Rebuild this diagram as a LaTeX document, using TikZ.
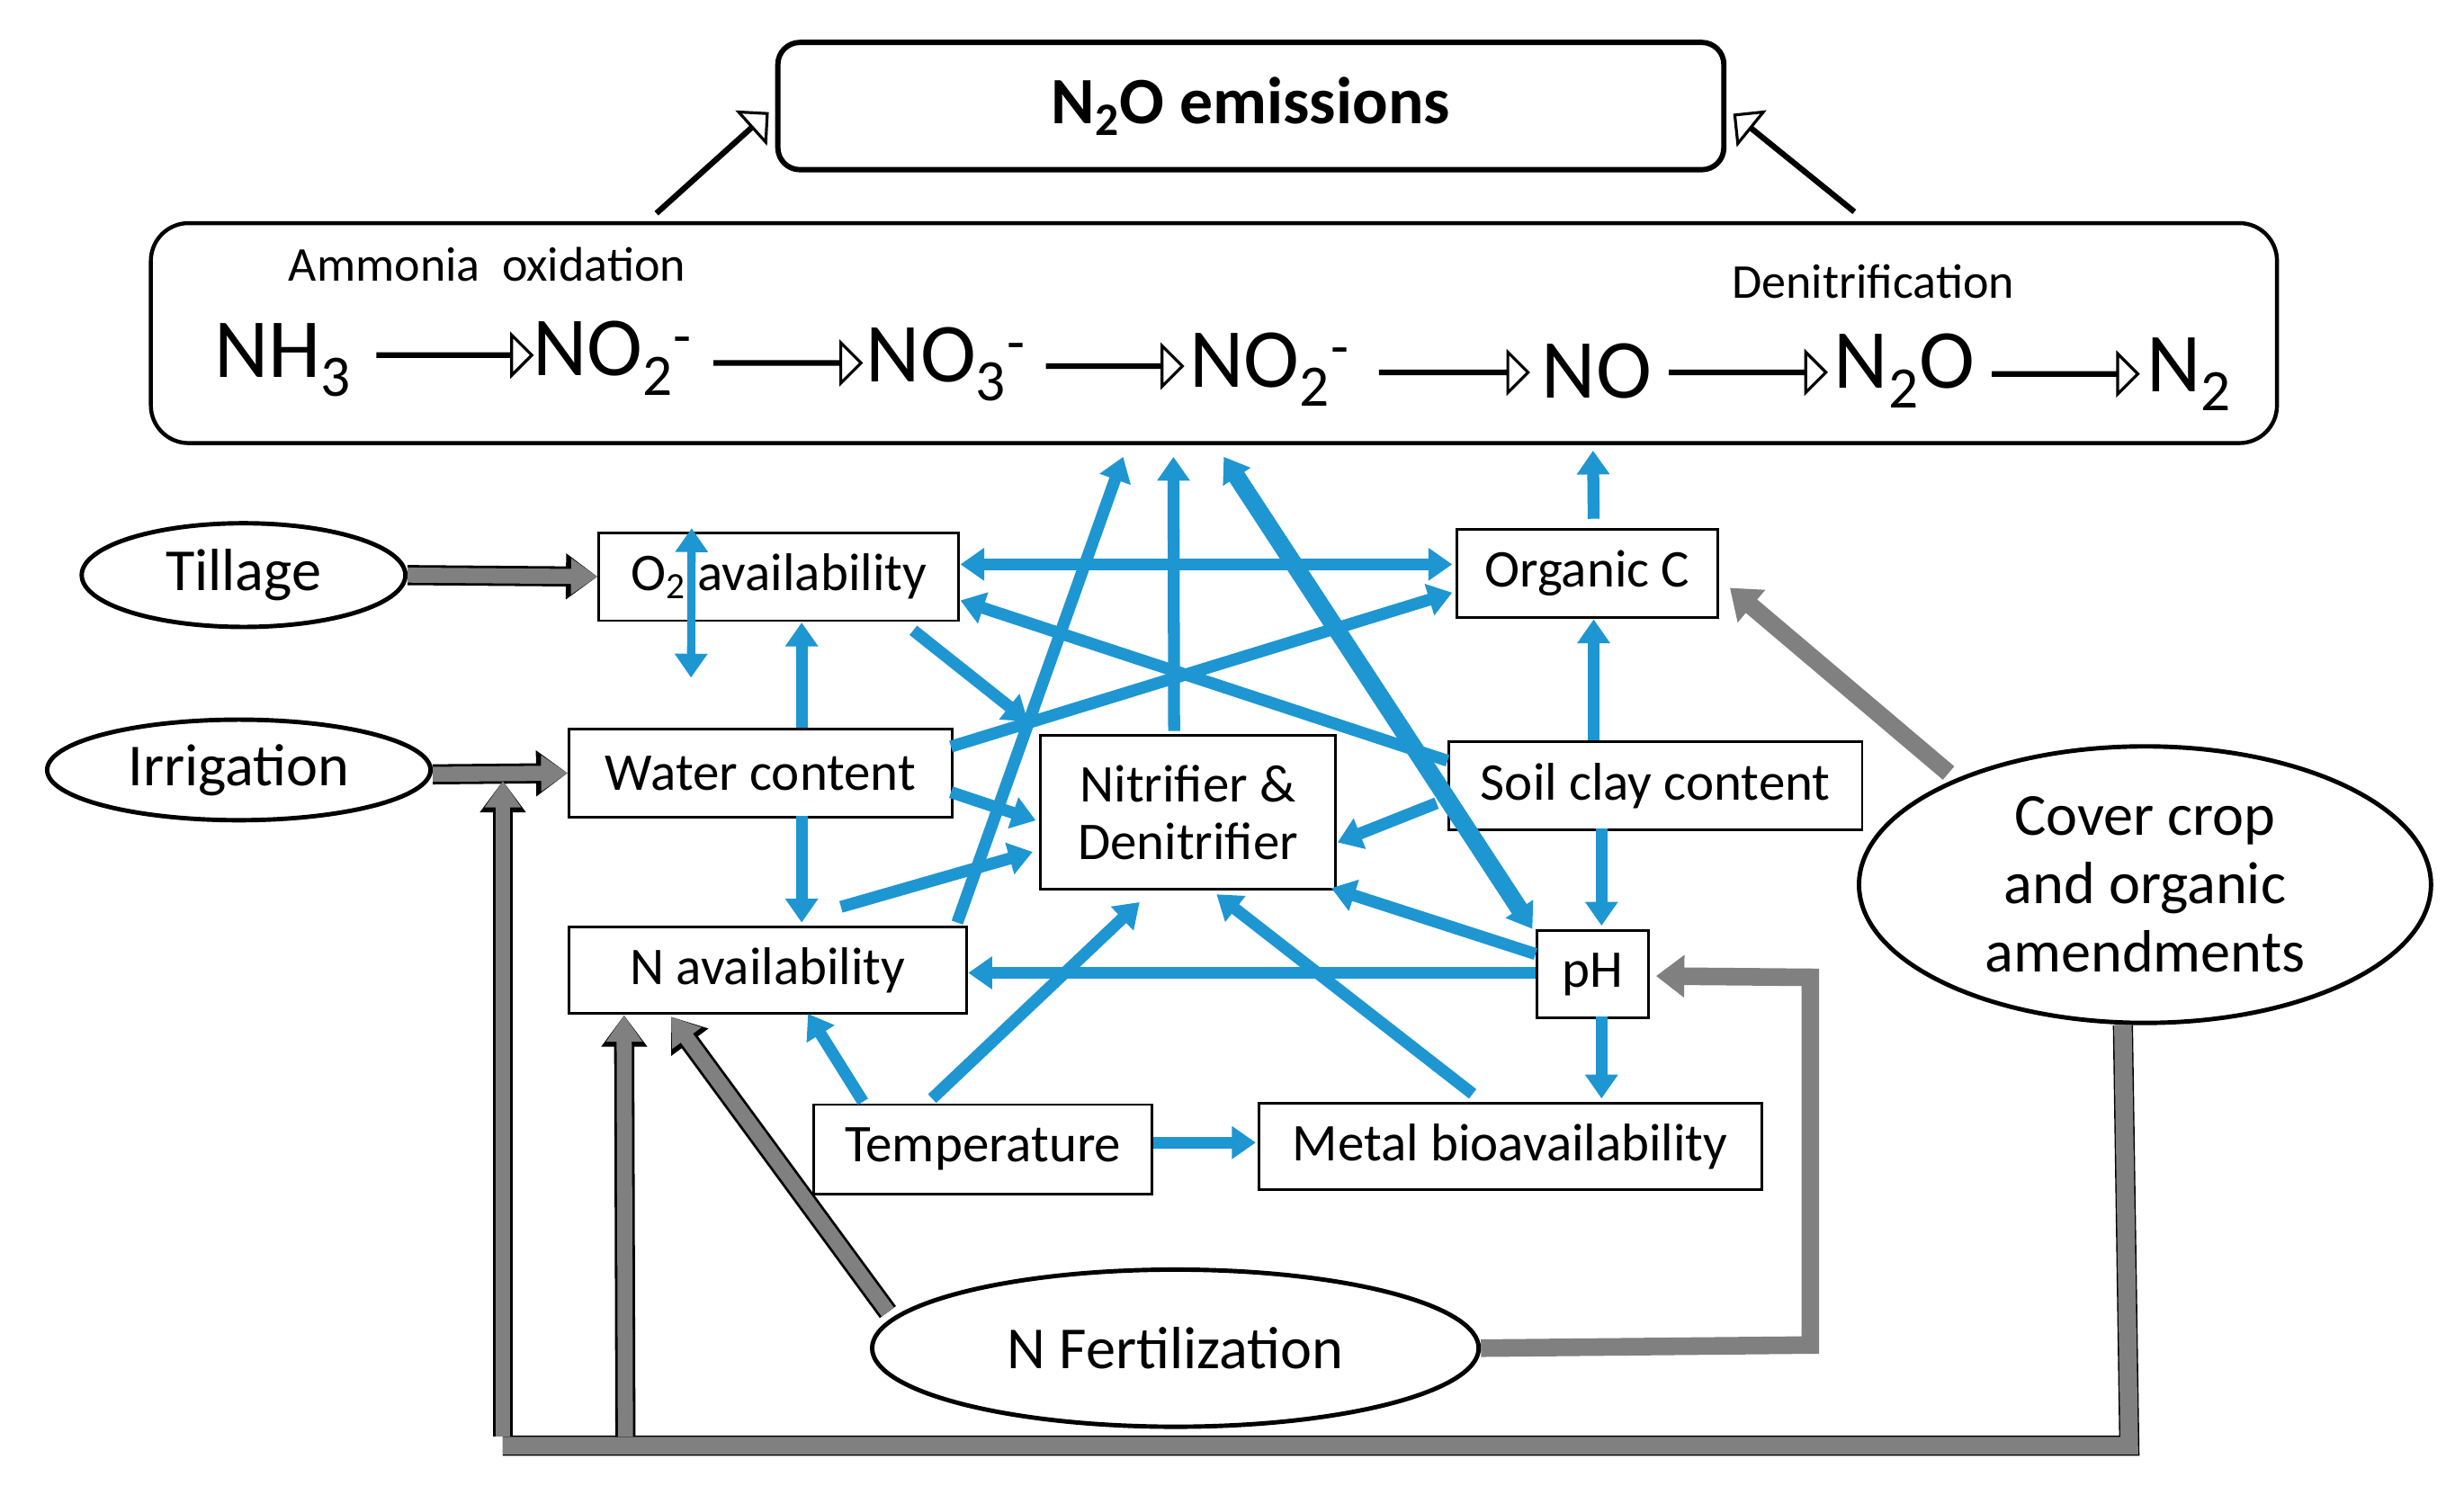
\documentclass[tikz,border=0pt]{standalone}
\usepackage{fontspec}
\setmainfont{Carlito}
\usetikzlibrary{shapes.geometric,shapes.arrows,arrows.meta}
\definecolor{cblue}{RGB}{30,150,210}
\definecolor{cgray}{RGB}{128,128,128}
\newcommand\fs[1]{\fontsize{#1}{#1}\selectfont}
\begin{document}
\begin{tikzpicture}[x=0.025cm,y=-0.025cm,
  box/.style={draw,line width=1.2pt,inner sep=0,font=\fs{24}},
  ell/.style={draw,ellipse,line width=2pt,inner sep=0,font=\fs{27},align=center},
  ba/.style={draw=cblue,line width=0.19cm,-{Triangle[width=0.5cm,length=0.38cm]}},
  bd/.style={ba,{Triangle[width=0.5cm,length=0.38cm]}-{Triangle[width=0.5cm,length=0.38cm]}},
  ga/.style={draw=cgray,line width=0.24cm,-{Triangle[width=0.55cm,length=0.42cm]},
     preaction={draw=black,line width=0.32cm,-{Triangle[width=0.7cm,length=0.5cm]}}},
  gp/.style={draw=cgray,line width=0.28cm,-{Triangle[width=0.65cm,length=0.45cm]}},
  hollow/.style={draw,fill=white,single arrow,line width=1.3pt,inner sep=0,
     minimum width=0.4cm,single arrow head extend=0.3cm,single arrow head indent=0pt},
  chem/.style={font=\fs{38},inner sep=0}]
\useasboundingbox (0,0) rectangle (1568,957);
% top boxes
\node[draw,rounded corners=0.35cm,line width=2.4pt,minimum width=602*0.025cm,minimum height=81*0.025cm,font=\fs{30}\bfseries] (top) at (796,67.5) {N\textsubscript{2}O emissions};
\node[draw,rounded corners=0.6cm,line width=1.8pt,minimum width=1353*0.025cm,minimum height=140*0.025cm] (big) at (772.5,212) {};
\node[font=\fs{22},inner sep=0] (amm) at (310,168) {Ammonia\ \ oxidation};
\node[font=\fs{22},inner sep=0] (den) at (1192,179) {Denitrification};
\node[chem] (c1) at (180,229) {NH\textsubscript{3}};
\node[chem] (c2) at (390,228) {NO\textsubscript{2}\textsuperscript{-}};
\node[chem] (c3) at (602,232) {NO\textsubscript{3}\textsuperscript{-}};
\node[chem] (c4) at (808,235) {NO\textsubscript{2}\textsuperscript{-}};
\node[chem] (c5) at (1016,236) {NO};
\node[chem] (c6) at (1212,236) {N\textsubscript{2}O};
\node[chem] (c7) at (1393,238) {N\textsubscript{2}};
\node[hollow,minimum height=98*0.025cm] (h1) at (289,226) {};
\node[hollow,minimum height=93*0.025cm] (h2) at (501,231) {};
\node[hollow,minimum height=86*0.025cm] (h3) at (709,233) {};
\node[hollow,minimum height=94*0.025cm] (h4) at (925,237) {};
\node[hollow,minimum height=99*0.025cm] (h5) at (1112,237) {};
\node[hollow,minimum height=92*0.025cm] (h6) at (1314,238) {};
\node[hollow,minimum height=94*0.025cm,rotate=42] (d1) at (453,104) {};
\node[hollow,minimum height=97*0.025cm,rotate=141] (d2) at (1142,104) {};
% boxes
\node[box,minimum width=229*0.025cm,minimum height=56*0.025cm] (O2) at (495.5,367) {O\textsubscript{2} availability};
\node[box,minimum width=166*0.025cm,minimum height=56*0.025cm] (OC) at (1010,365) {Organic C};
\node[box,minimum width=244*0.025cm,minimum height=56*0.025cm] (W) at (484,492) {Water content};
\node[box,minimum width=188*0.025cm,minimum height=98*0.025cm,align=center] (ND) at (756,517) {Nitrifier \&\\[2pt]Denitrifier};
\node[box,minimum width=263*0.025cm,minimum height=56*0.025cm] (SC) at (1053.5,500) {Soil clay content};
\node[box,minimum width=253*0.025cm,minimum height=55*0.025cm] (NA) at (488.5,617.5) {N availability};
\node[box,minimum width=71*0.025cm,minimum height=56*0.025cm] (pH) at (1013.5,620) {pH};
\node[box,minimum width=215*0.025cm,minimum height=57*0.025cm] (T) at (625.5,731.5) {Temperature};
\node[box,minimum width=320*0.025cm,minimum height=55*0.025cm] (M) at (961,729.5) {Metal bioavailability};
% ellipses
\node[ell,minimum width=206*0.025cm,minimum height=66*0.025cm] (Til) at (155,366) {Tillage};
\node[ell,minimum width=244*0.025cm,minimum height=64*0.025cm] (Irr) at (152,490) {Irrigation};
\node[ell,minimum width=364*0.025cm,minimum height=176*0.025cm] (CC) at (1365,563) {Cover crop\\[4pt]and organic\\[4pt]amendments};
\node[ell,minimum width=386*0.025cm,minimum height=100*0.025cm] (NF) at (748,858) {N Fertilization};
% blue arrows
\draw[bd,line width=0.13cm] ([shift={(345,148)}]big.south west) -- ([shift={(60,-2)}]O2.north west);
\draw[bd] ([shift={(231,21)}]O2.north west) -- ([shift={(-2,23)}]OC.north west);
\draw[ba] ([shift={(149,0)}]W.north west) -- ([shift={(130,58)}]O2.north west);
\draw[ba] ([shift={(149,56)}]W.north west) -- ([shift={(149,-2)}]NA.north west);
\draw[ba] ([shift={(0,13)}]SC.north west) -- ([shift={(231,44)}]O2.north west);
\draw[ba] ([shift={(244,12)}]W.north west) -- ([shift={(-2,41)}]OC.north west);
\draw[ba] ([shift={(201,63)}]O2.north west) -- ([shift={(-7,-8)}]ND.north west);
\draw[ba] ([shift={(244,41)}]W.north west) -- ([shift={(-2,55)}]ND.north west);
\draw[ba] ([shift={(174,-12)}]NA.north west) -- ([shift={(-4,75)}]ND.north west);
\draw[ba] ([shift={(248,-2)}]NA.north west) -- ([shift={(620,150)}]big.north west);
\draw[ba] ([shift={(86,-2)}]ND.north west) -- ([shift={(652,150)}]big.north west);
\draw[bd,line width=0.28cm] ([shift={(684,150)}]big.north west) -- ([shift={(-2,0)}]pH.north west);
\draw[ba] ([shift={(88,-6)}]OC.north west) -- ([shift={(919,146)}]big.north west);
\draw[ba] ([shift={(93,0)}]SC.north west) -- ([shift={(88,58)}]OC.north west);
\draw[ba] ([shift={(-7,40)}]SC.north west) -- ([shift={(190,69)}]ND.north west);
\draw[ba] ([shift={(98,56)}]SC.north west) -- ([shift={(42,-2)}]pH.north west);
\draw[ba] ([shift={(0,16)}]pH.north west) -- ([shift={(186,98)}]ND.north west);
\draw[ba] ([shift={(0,28)}]pH.north west) -- ([shift={(255,30)}]NA.north west);
\draw[ba] ([shift={(42,56)}]pH.north west) -- ([shift={(219,-2)}]M.north west);
\draw[ba] ([shift={(32,-1)}]T.north west) -- ([shift={(153,56)}]NA.north west);
\draw[ba] ([shift={(76,-3)}]T.north west) -- ([shift={(64,107)}]ND.north west);
\draw[ba] ([shift={(137,-5)}]M.north west) -- ([shift={(113,102)}]ND.north west);
\draw[ba] ([shift={(217,25)}]T.north west) -- ([shift={(-1,26)}]M.north west);
% gray arrows
\draw[ga] (Til.east) -- (O2.west);
\draw[ga] ([yshift=-2]Irr.east) -- (W.west);
\draw[gp] ([shift={(-125,-71)}]CC.center) -- ([shift={(7,38)}]OC.north east);
\draw[gp] (NF.east) -- (1152,856) -- (1152,622) -- ([shift={(4,30)}]pH.north east);
\coordinate (c1b) at (1355,920);
\coordinate (c2b) at (320,920);
\coordinate (c3b) at (398,920);
\coordinate (irrj) at (320,497);
\draw[draw=black,line width=0.32cm] ([xshift=-10]CC.south) -- (c1b) -- (c2b);
\draw[gp,draw=cgray,-] ([xshift=-10]CC.south) -- (c1b) -- (c2b);
\draw[ga] ([yshift=4]c2b) -- (irrj);
\draw[ga] ([yshift=4]c3b) -- ([shift={(36,57)}]NA.north west);
\draw[ga] ([shift={(-183,-23)}]NF.center) -- ([shift={(66,58)}]NA.north west);
\end{tikzpicture}
\end{document}
